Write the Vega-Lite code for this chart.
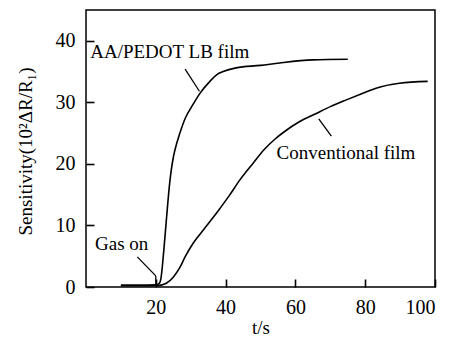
{
  "$schema": "https://vega.github.io/schema/vega-lite/v6.json",
  "width": 349,
  "height": 277,
  "autosize": "none",
  "padding": {"left": 86, "top": 10, "right": 20, "bottom": 56},
  "background": "white",
  "config": {
    "view": {"stroke": "black", "strokeWidth": 1.5},
    "font": "Liberation Serif",
    "axis": {
      "grid": false,
      "domain": false,
      "ticks": true,
      "tickSize": 8,
      "offset": -8,
      "tickColor": "black",
      "tickWidth": 1.6,
      "zindex": 1,
      "labelColor": "black",
      "labelFont": "Liberation Serif",
      "labelFontSize": 20,
      "titleFont": "Liberation Serif",
      "titleFontSize": 19,
      "titleFontWeight": "normal",
      "titleColor": "black"
    }
  },
  "datasets": {
    "curves": [
      {"series": "AA/PEDOT LB film", "t": 10, "s": 0.3},
      {"series": "AA/PEDOT LB film", "t": 15, "s": 0.3},
      {"series": "AA/PEDOT LB film", "t": 20, "s": 0.35},
      {"series": "AA/PEDOT LB film", "t": 21, "s": 0.6},
      {"series": "AA/PEDOT LB film", "t": 21.5, "s": 1.5},
      {"series": "AA/PEDOT LB film", "t": 22.3, "s": 6},
      {"series": "AA/PEDOT LB film", "t": 23.1, "s": 11.4},
      {"series": "AA/PEDOT LB film", "t": 24, "s": 17},
      {"series": "AA/PEDOT LB film", "t": 25, "s": 21},
      {"series": "AA/PEDOT LB film", "t": 25.5, "s": 22.3},
      {"series": "AA/PEDOT LB film", "t": 26.9, "s": 25},
      {"series": "AA/PEDOT LB film", "t": 28.5, "s": 27.5},
      {"series": "AA/PEDOT LB film", "t": 30.5, "s": 29.5},
      {"series": "AA/PEDOT LB film", "t": 32.7, "s": 31.5},
      {"series": "AA/PEDOT LB film", "t": 35.5, "s": 33.4},
      {"series": "AA/PEDOT LB film", "t": 37.5, "s": 34.5},
      {"series": "AA/PEDOT LB film", "t": 39.3, "s": 35},
      {"series": "AA/PEDOT LB film", "t": 43, "s": 35.6},
      {"series": "AA/PEDOT LB film", "t": 50, "s": 36},
      {"series": "AA/PEDOT LB film", "t": 55.5, "s": 36.4},
      {"series": "AA/PEDOT LB film", "t": 65, "s": 36.9},
      {"series": "AA/PEDOT LB film", "t": 75, "s": 37.0},
      {"series": "Conventional film", "t": 10, "s": 0.2},
      {"series": "Conventional film", "t": 20, "s": 0.2},
      {"series": "Conventional film", "t": 21.5, "s": 0.3},
      {"series": "Conventional film", "t": 23, "s": 0.6},
      {"series": "Conventional film", "t": 25, "s": 1.6},
      {"series": "Conventional film", "t": 26.9, "s": 3.2},
      {"series": "Conventional film", "t": 28.5, "s": 5},
      {"series": "Conventional film", "t": 30.7, "s": 7.1},
      {"series": "Conventional film", "t": 33.1, "s": 8.9},
      {"series": "Conventional film", "t": 37.9, "s": 12.4},
      {"series": "Conventional film", "t": 41, "s": 14.8},
      {"series": "Conventional film", "t": 44.1, "s": 17.4},
      {"series": "Conventional film", "t": 48, "s": 20.2},
      {"series": "Conventional film", "t": 51, "s": 22.3},
      {"series": "Conventional film", "t": 54.1, "s": 24},
      {"series": "Conventional film", "t": 57, "s": 25.3},
      {"series": "Conventional film", "t": 61, "s": 26.8},
      {"series": "Conventional film", "t": 66, "s": 28.2},
      {"series": "Conventional film", "t": 70, "s": 29.3},
      {"series": "Conventional film", "t": 74.6, "s": 30.4},
      {"series": "Conventional film", "t": 79, "s": 31.4},
      {"series": "Conventional film", "t": 83.1, "s": 32.3},
      {"series": "Conventional film", "t": 89.8, "s": 33.1},
      {"series": "Conventional film", "t": 97.9, "s": 33.4}
    ],
    "pointers": [
      {"t": 28.4, "s": 35.4, "t2": 32.5, "s2": 31.8},
      {"t": 66.7, "s": 27.3, "t2": 70.3, "s2": 24.5},
      {"t": 14.7, "s": 4.9, "t2": 20.0, "s2": 1.8},
      {"t": 20.0, "s": 1.8, "t2": 20.0, "s2": 0.5}
    ],
    "labels": [
      {"t": 1.2, "s": 38.2, "label": "AA/PEDOT LB film"},
      {"t": 54.6, "s": 21.7, "label": "Conventional film"},
      {"t": 2.6, "s": 7.0, "label": "Gas on"}
    ]
  },
  "layer": [
    {
      "data": {"name": "curves"},
      "mark": {"type": "line", "color": "black", "strokeWidth": 1.6, "interpolate": "monotone"},
      "encoding": {
        "x": {
          "field": "t", "type": "quantitative",
          "scale": {"domain": [0, 100], "nice": false, "zero": false},
          "axis": {"values": [20, 40, 60, 80, 100], "title": "t/s", "labelPadding": 10, "titleY": 48, "titleBaseline": "middle"}
        },
        "y": {
          "field": "s", "type": "quantitative",
          "scale": {"domain": [0, 45], "nice": false},
          "axis": {"values": [0, 10, 20, 30, 40], "title": "Sensitivity(10²ΔR/R₁)", "labelPadding": 11, "titleX": -69, "titleY": 141, "titleBaseline": "middle", "titleAngle": -90, "titleAlign": "center"}
        },
        "detail": {"field": "series"}
      }
    },
    {
      "data": {"name": "pointers"},
      "mark": {"type": "rule", "color": "black", "strokeWidth": 1.3},
      "encoding": {
        "x": {"field": "t", "type": "quantitative"},
        "y": {"field": "s", "type": "quantitative"},
        "x2": {"field": "t2"},
        "y2": {"field": "s2"}
      }
    },
    {
      "data": {"name": "labels"},
      "mark": {"type": "text", "align": "left", "baseline": "middle", "font": "Liberation Serif", "fontSize": 19, "color": "black"},
      "encoding": {
        "x": {"field": "t", "type": "quantitative"},
        "y": {"field": "s", "type": "quantitative"},
        "text": {"field": "label"}
      }
    }
  ]
}
